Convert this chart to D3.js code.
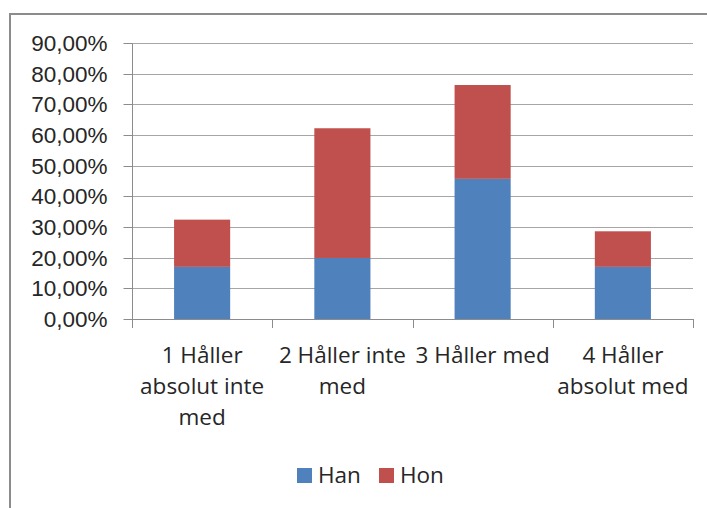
<!DOCTYPE html>
<html>
<head>
<meta charset="utf-8">
<script src="https://cdn.jsdelivr.net/npm/d3@7"></script>
<style>
  body { margin: 0; background: #fff; }
  svg { display: block; font-family: "Open Sans", sans-serif; }
</style>
</head>
<body>
<svg id="chart" width="707" height="508"></svg>
<script>
// survey answers, share per gender
var categories = ["1 Håller absolut inte med", "2 Håller inte med", "3 Håller med", "4 Håller absolut med"];
var categoryLines = [["1 Håller", "absolut inte", "med"], ["2 Håller inte", "med"], ["3 Håller med"], ["4 Håller", "absolut med"]];
var han = [0.170, 0.199, 0.457, 0.170];
var hon = [0.154, 0.423, 0.306, 0.116];
var seriesNames = ["Han", "Hon"];
var yTicks = [0, 0.1, 0.2, 0.3, 0.4, 0.5, 0.6, 0.7, 0.8, 0.9];

var colors = {Han: "#4f81bd", Hon: "#c0504d"};
var textColor = "#262626";
var fontSize = 22.5;

var svg = d3.select("#chart");

// outer frame (only left and top visible in the crop)
svg.append("rect")
	.attr("x", 10).attr("y", 14)
	.attr("width", 740).attr("height", 540)
	.attr("fill", "none")
	.attr("stroke", "#8c8c8c")
	.attr("stroke-width", 2);

// note: "top" is reserved on window, so plot edges get their own names
var plotLeft = 132, plotRight = 693, plotTop = 43, plotBottom = 319;

var x = d3.scaleBand().domain(categories).range([plotLeft, plotRight]).paddingInner(0.6).paddingOuter(0.3);
var y = d3.scaleLinear().domain([0, 0.9]).range([plotBottom, plotTop]);

var sv = d3.formatLocale({decimal: ",", thousands: " ", grouping: [3], currency: ["", " kr"]});
var pct = sv.format(".2%");

function yPix(d){ return Math.round(y(d)) + 0.5; }

// gridlines
svg.append("g").selectAll("line").data(yTicks).join("line")
	.attr("x1", plotLeft).attr("x2", plotRight)
	.attr("y1", yPix).attr("y2", yPix)
	.attr("stroke", "#a6a6a6").attr("stroke-width", 1);

// stacked data
var rows = categories.map(function(c, i){ return {cat: c, Han: han[i], Hon: hon[i]}; });
var stack = d3.stack().keys(seriesNames)(rows);

svg.append("g").selectAll("g").data(stack).join("g")
	.attr("fill", function(s){ return colors[s.key]; })
	.selectAll("rect").data(function(s){ return s; }).join("rect")
	.attr("x", function(d){ return x(d.data.cat); })
	.attr("width", x.bandwidth())
	.attr("y", function(d){ return y(d[1]); })
	.attr("height", function(d){ return y(d[0]) - y(d[1]); });

// y axis
var yAxis = d3.axisLeft(y).tickValues(yTicks).tickFormat(pct).tickSize(9).tickPadding(16);
var gy = svg.append("g").attr("transform", "translate(" + (plotLeft + 0.5) + ",0)").call(yAxis);
gy.select(".domain").attr("stroke", "#8c8c8c").attr("d", "M0," + (plotTop + 0.5) + "V" + (plotBottom + 0.5));
gy.selectAll(".tick line").attr("stroke", "#8c8c8c");
gy.selectAll(".tick text").attr("fill", textColor).style("font-size", fontSize + "px").attr("dy", "0.32em");
gy.selectAll(".tick").attr("transform", function(d){ return "translate(0," + yPix(d) + ")"; });

// x axis line and boundary ticks
var step = x.step();
var bounds = d3.range(categories.length + 1).map(function(i){ return plotLeft + i * step; });
svg.append("line")
	.attr("x1", plotLeft).attr("x2", plotRight)
	.attr("y1", plotBottom + 0.5).attr("y2", plotBottom + 0.5)
	.attr("stroke", "#8c8c8c");
svg.append("g").selectAll("line").data(bounds).join("line")
	.attr("x1", function(d){ return Math.round(d) + 0.5; })
	.attr("x2", function(d){ return Math.round(d) + 0.5; })
	.attr("y1", plotBottom).attr("y2", plotBottom + 9)
	.attr("stroke", "#8c8c8c");

// category labels
var labels = svg.append("g").selectAll("text").data(categories).join("text")
	.attr("text-anchor", "middle")
	.attr("fill", textColor)
	.style("font-size", fontSize + "px");
labels.each(function(d, i){
	var t = d3.select(this);
	categoryLines[i].forEach(function(line, j){
		t.append("tspan")
			.attr("x", x(d) + x.bandwidth() / 2)
			.attr("y", 363 + j * 31)
			.text(line);
	});
});

// legend
var legendX = [297, 379];
var legend = svg.append("g").selectAll("g").data(seriesNames).join("g")
	.attr("transform", function(d, i){ return "translate(" + legendX[i] + ",468)"; });
legend.append("rect")
	.attr("width", 15).attr("height", 15)
	.attr("fill", function(d){ return colors[d]; });
legend.append("text")
	.attr("x", 21).attr("y", 15)
	.attr("fill", textColor)
	.style("font-size", fontSize + "px")
	.text(function(d){ return d; });
</script>
</body>
</html>
